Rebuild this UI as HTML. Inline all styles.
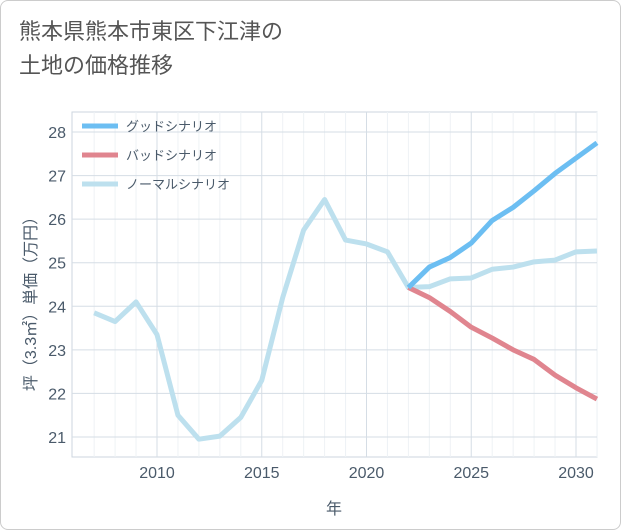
<!DOCTYPE html>
<html><head><meta charset="utf-8"><style>
body{margin:0;background:#fff;}
.wrap{position:relative;width:619px;height:528px;border:1px solid #ccc;border-radius:8px;overflow:hidden;background:#fff;font-family:"Liberation Sans","Noto Sans CJK JP",sans-serif;}
.title{position:absolute;left:18px;top:14px;font-size:22px;line-height:34px;color:#555;}
</style></head><body>
<div class="wrap">
<div class="title">熊本県熊本市東区下江津の<br>土地の価格推移</div>
<svg id="chart" width="621" height="530" style="position:absolute;left:-1px;top:-1px"></svg>
</div>
<script>
const years=[2007,2008,2009,2010,2011,2012,2013,2014,2015,2016,2017,2018,2019,2020,2021,2022,2023,2024,2025,2026,2027,2028,2029,2030,2031];
const normalVals=[23.85,23.65,24.1,23.35,21.5,20.95,21.02,21.45,22.3,24.2,25.75,26.45,25.52,25.43,25.25,24.43,24.45,24.63,24.65,24.85,24.9,25.02,25.06,25.25,25.27];
const futureYears=[2022,2023,2024,2025,2026,2027,2028,2029,2030,2031];
const goodVals=[24.43,24.9,25.12,25.45,25.97,26.27,26.65,27.05,27.4,27.75];
const badVals=[24.43,24.2,23.88,23.52,23.27,23.0,22.78,22.42,22.13,21.87];
const xTicks=[2010,2015,2020,2025,2030];
const yTicks=[21,22,23,24,25,26,27,28];
const legendLabels=["グッドシナリオ","バッドシナリオ","ノーマルシナリオ"];
const colors=["#6cbef2","#e0858f","#bde0ee"];
const NS="http://www.w3.org/2000/svg";
const svg=document.getElementById('chart');
const L=72,R=597,T=112,B=457;
const xS=y=>157+(y-2010)*(576-157)/20;
const yS=v=>437-(v-21)*(437-132)/7;
function mk(t,a){const e=document.createElementNS(NS,t);for(const k in a)e.setAttribute(k,a[k]);svg.appendChild(e);return e;}
const bg=mk('rect',{x:L,y:T,width:R-L,height:B-T,fill:'#fff',stroke:'#ccd6df'});


for(let y=2007;y<=2031;y++){if(y%5===0)continue;const g=mk('line',{x1:xS(y),x2:xS(y),y1:T,y2:B,stroke:'#eef2f5'});}
xTicks.forEach(t=>{const g=mk('line',{x1:xS(t),x2:xS(t),y1:T,y2:B,stroke:'#d5dde5'});
const tx=mk('text',{x:xS(t),y:478,'text-anchor':'middle','font-size':16,fill:'#4a5a6a'});tx.textContent=t;});
yTicks.forEach(t=>{const g=mk('line',{x1:L,x2:R,y1:yS(t),y2:yS(t),stroke:'#d5dde5'});
const tx=mk('text',{x:66,y:yS(t)+6,'text-anchor':'end','font-size':16,fill:'#4a5a6a'});tx.textContent=t;});
const xt=mk('text',{x:334,y:514,'text-anchor':'middle','font-size':16,fill:'#4a5a6a'});xt.textContent='年';


const yt=mk('text',{x:0,y:0,'text-anchor':'middle','font-size':16,fill:'#4a5a6a',transform:'translate(36,300) rotate(-90)'});yt.textContent='坪（3.3㎡）単価（万円）';


function line(xs,vs,c,name){const p=mk('polyline',{points:xs.map((x,i)=>xS(x)+','+yS(vs[i])).join(' '),fill:'none',stroke:c,'stroke-width':5,'stroke-linejoin':'round'});}
line(years,normalVals,colors[2],'normal-scenario-line');
line(futureYears,badVals,colors[1],'bad-scenario-line');
line(futureYears,goodVals,colors[0],'good-scenario-line');
const sel=[[2031,goodVals],[2031,badVals],[2031,normalVals]];
legendLabels.forEach((l,i)=>{const y=126+i*29;
const s=mk('line',{x1:82,x2:118,y1:y,y2:y,stroke:colors[i],'stroke-width':5});
const tx=mk('text',{x:126,y:y+5,'font-size':13,fill:'#4a5a6a'});tx.textContent=l;});
</script>
</body></html>
